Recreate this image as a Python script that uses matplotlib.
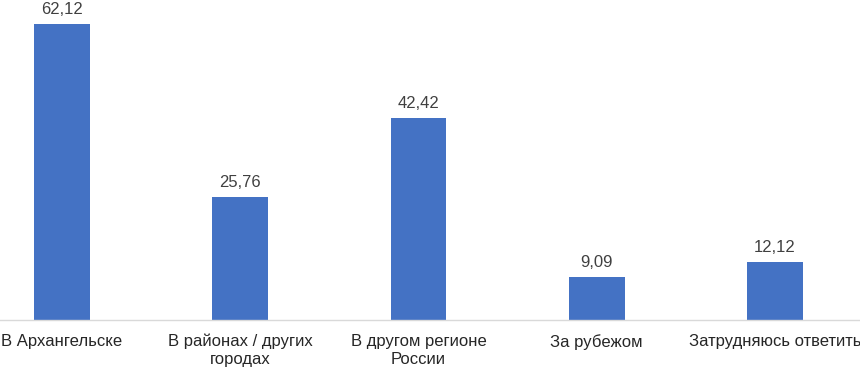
import matplotlib.pyplot as plt

# data
categories = ["В Архангельске", "В районах / других\nгородах", "В другом регионе\nРоссии",
              "За рубежом", "Затрудняюсь ответить"]
values = [62.12, 25.76, 42.42, 9.09, 12.12]

plt.rcParams['font.family'] = ['Liberation Sans', 'DejaVu Sans']

fig = plt.figure(figsize=(8.6, 3.69), dpi=100)
ax = fig.add_axes([0, 49 / 369, 1, 320 / 369])

x = list(range(len(values)))
bars = ax.bar(x, values, width=0.314, color='#4472C4')

for xi, v in zip(x, values):
    ax.text(xi, v + 1.5, f"{v:.2f}".replace('.', ','), ha='center', va='bottom',
            fontsize=12, color='#404040')

ax.set_xlim(-0.3478, 4.477)
ax.set_ylim(0, 67.16)
ax.set_xticks(x)
ax.set_xticklabels(categories, fontsize=12, color='#262626', linespacing=1.25)
ax.tick_params(axis='x', length=0, pad=10)
ax.set_yticks([])

for s in ['top', 'left', 'right']:
    ax.spines[s].set_visible(False)
ax.spines['bottom'].set_color('#D9D9D9')
ax.spines['bottom'].set_linewidth(1.0)

fig.savefig("out.png", dpi=100)
